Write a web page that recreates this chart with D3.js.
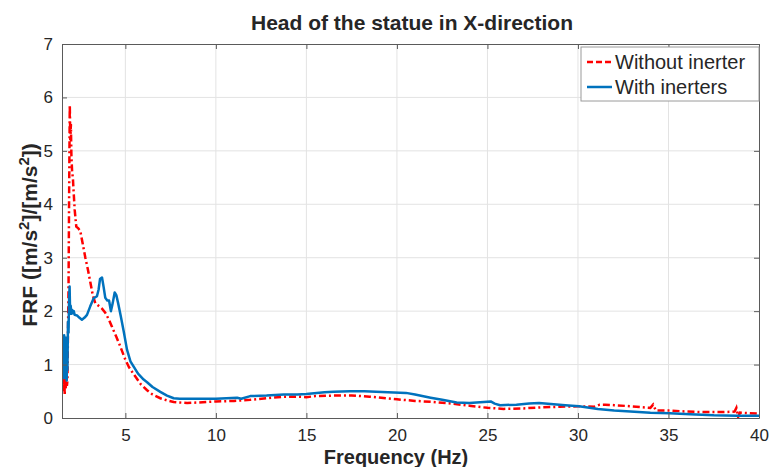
<!DOCTYPE html>
<head>
<meta charset="utf-8">
<style>
    body { margin: 0; background: #fff; }
    text { font-family: "Liberation Sans", Arial, sans-serif; fill: #262626; }
</style>
<script src="https://d3js.org/d3.v7.min.js"></script>
</head>
<body>
<script>
// values
var freqRed = [1.50, 1.53, 1.56, 1.59, 1.62, 1.65, 1.68, 1.71, 1.74, 1.77, 1.80, 1.83, 1.86, 1.89, 1.93, 1.96, 1.99, 2.02, 2.06, 2.10, 2.14, 2.20, 2.29, 2.40, 2.51, 2.65, 2.79, 2.93, 3.06, 3.20, 3.34, 3.52, 3.70, 3.89, 4.08, 4.26, 4.50, 4.72, 5.00, 5.20, 5.46, 5.83, 6.20, 6.50, 6.93, 7.30, 7.67, 8.00, 8.41, 9.00, 10.0, 11.0, 11.9, 12.8, 13.75, 14.5, 15.0, 15.5, 16.5, 17.5, 18.5, 20.0, 21.0, 22.0, 23.0, 24.0, 25.0, 25.9, 27.0, 28.0, 29.0, 30.0, 30.9, 31.2, 31.5, 32.0, 32.9, 34.0, 34.15, 34.3, 35.1, 36.0, 37.0, 38.0, 38.65, 38.75, 38.85, 38.95, 40.0];
var frfRed = [0.85, 0.60, 0.90, 0.50, 0.75, 0.45, 0.80, 0.55, 0.95, 0.60, 0.70, 1.60, 2.40, 4.00, 5.86, 5.20, 5.50, 4.90, 4.60, 4.50, 4.25, 3.90, 3.58, 3.55, 3.50, 3.25, 3.00, 2.78, 2.55, 2.30, 2.15, 2.10, 2.05, 1.97, 1.85, 1.71, 1.52, 1.34, 1.09, 0.95, 0.82, 0.64, 0.52, 0.44, 0.37, 0.33, 0.30, 0.29, 0.28, 0.29, 0.31, 0.32, 0.34, 0.37, 0.40, 0.40, 0.39, 0.41, 0.42, 0.42, 0.40, 0.35, 0.32, 0.30, 0.27, 0.23, 0.19, 0.17, 0.18, 0.20, 0.21, 0.22, 0.21, 0.25, 0.25, 0.24, 0.22, 0.19, 0.25, 0.14, 0.14, 0.12, 0.11, 0.11, 0.12, 0.19, 0.02, 0.10, 0.08];

var freqBlue = [1.50, 1.52, 1.54, 1.56, 1.58, 1.60, 1.62, 1.64, 1.66, 1.68, 1.70, 1.72, 1.74, 1.76, 1.78, 1.80, 1.83, 1.86, 1.89, 1.92, 1.95, 1.98, 2.02, 2.06, 2.10, 2.15, 2.20, 2.33, 2.45, 2.60, 2.75, 2.88, 3.06, 3.25, 3.43, 3.52, 3.60, 3.71, 3.80, 3.89, 4.00, 4.10, 4.20, 4.30, 4.41, 4.50, 4.60, 4.75, 4.91, 5.09, 5.28, 5.46, 5.70, 6.01, 6.20, 6.50, 6.93, 7.30, 7.67, 8.00, 9.00, 10.0, 11.17, 11.4, 11.9, 12.8, 13.75, 14.5, 15.0, 16.0, 16.5, 17.4, 18.2, 19.5, 20.5, 21.0, 21.86, 22.5, 23.3, 24.0, 24.8, 25.18, 25.4, 25.7, 26.6, 27.3, 27.85, 28.5, 29.3, 30.06, 31.1, 32.0, 32.9, 34.0, 35.07, 36.2, 37.5, 38.8, 40.0];
var frfBlue = [1.30, 0.90, 1.50, 0.80, 1.45, 0.75, 1.55, 0.90, 1.40, 0.75, 1.50, 0.80, 1.35, 0.70, 1.40, 0.90, 1.80, 1.60, 2.20, 2.46, 1.95, 2.10, 1.95, 2.02, 1.96, 2.00, 1.93, 1.92, 1.88, 1.84, 1.88, 1.93, 2.09, 2.24, 2.28, 2.40, 2.60, 2.63, 2.45, 2.25, 2.20, 2.20, 2.00, 2.15, 2.35, 2.30, 2.15, 1.90, 1.62, 1.28, 1.06, 0.96, 0.83, 0.72, 0.67, 0.58, 0.49, 0.42, 0.37, 0.36, 0.36, 0.36, 0.38, 0.36, 0.41, 0.42, 0.44, 0.44, 0.45, 0.48, 0.49, 0.50, 0.50, 0.48, 0.47, 0.44, 0.38, 0.34, 0.29, 0.28, 0.30, 0.31, 0.27, 0.24, 0.25, 0.27, 0.28, 0.26, 0.24, 0.22, 0.17, 0.14, 0.12, 0.10, 0.09, 0.07, 0.05, 0.04, 0.04];

var xTicks = [5, 10, 15, 20, 25, 30, 35, 40];
var yTicks = [0, 1, 2, 3, 4, 5, 6, 7];
var seriesNames = ["Without inerter", "With inerters"];

var W = 771, H = 467;
var margin = {top: 44, right: 12, bottom: 49, left: 62};
var width = W - margin.left - margin.right,
    height = H - margin.top - margin.bottom;

var svg = d3.select("body").append("svg")
    .attr("width", W)
    .attr("height", H);

var x = d3.scaleLinear().domain([1.5, 40]).range([0, width]);
var y = d3.scaleLinear().domain([0, 7]).range([height, 0]);

var g = svg.append("g")
    .attr("transform", "translate(" + margin.left + "," + margin.top + ")");

// grid
g.append("g").selectAll("line")
    .data(xTicks.filter(function(d) { return d < 40; }))
    .enter().append("line")
    .attr("x1", function(d) { return x(d); })
    .attr("x2", function(d) { return x(d); })
    .attr("y1", 0).attr("y2", height)
    .attr("stroke", "#e3e3e3");
g.append("g").selectAll("line")
    .data(yTicks.filter(function(d) { return d > 0 && d < 7; }))
    .enter().append("line")
    .attr("y1", function(d) { return y(d); })
    .attr("y2", function(d) { return y(d); })
    .attr("x1", 0).attr("x2", width)
    .attr("stroke", "#e3e3e3");

svg.append("clipPath").attr("id", "clip")
  .append("rect").attr("width", width).attr("height", height);

var line = d3.line()
    .x(function(d) { return x(d[0]); })
    .y(function(d) { return y(d[1]); });

var plot = g.append("g").attr("clip-path", "url(#clip)");

plot.append("path")
    .datum(d3.zip(freqRed, frfRed))
    .attr("fill", "none")
    .attr("stroke", "#ff0000")
    .attr("stroke-width", 2.5)
    .attr("stroke-dasharray", "7,3,2,3")
    .attr("d", line);

plot.append("path")
    .datum(d3.zip(freqBlue, frfBlue))
    .attr("fill", "none")
    .attr("stroke", "#0072bd")
    .attr("stroke-width", 2.5)
    .attr("stroke-linejoin", "round")
    .attr("d", line);

// axes (ticks inward, box with ticks)
function styleAxis(sel) {
    sel.selectAll("path").attr("stroke", "#5a5a5a");
    sel.selectAll("line").attr("stroke", "#5a5a5a");
    sel.selectAll("text").style("font-size", "17px").attr("fill", "#262626");
}
var xAxis = g.append("g")
    .attr("transform", "translate(0," + height + ")")
    .call(d3.axisBottom(x).tickValues(xTicks).tickFormat(d3.format("d"))
        .tickSize(-5).tickPadding(11).tickSizeOuter(0));
styleAxis(xAxis);

var yAxis = g.append("g")
    .call(d3.axisLeft(y).tickValues(yTicks).tickFormat(d3.format("d"))
        .tickSize(-5).tickPadding(9).tickSizeOuter(0));
styleAxis(yAxis);

var topAxis = g.append("g")
    .call(d3.axisTop(x).tickValues(xTicks).tickSize(-5).tickFormat("").tickSizeOuter(0));
styleAxis(topAxis);
var rightAxis = g.append("g")
    .attr("transform", "translate(" + width + ",0)")
    .call(d3.axisRight(y).tickValues(yTicks).tickSize(-5).tickFormat("").tickSizeOuter(0));
styleAxis(rightAxis);

// title and labels
svg.append("text")
    .attr("x", 412)
    .attr("y", 30)
    .attr("text-anchor", "middle")
    .style("font-size", "21px")
    .style("font-weight", "bold")
    .attr("fill", "#000")
    .text("Head of the statue in X-direction");

svg.append("text")
    .attr("x", 396)
    .attr("y", 464)
    .attr("text-anchor", "middle")
    .style("font-size", "20px")
    .style("font-weight", "bold")
    .text("Frequency (Hz)");

var ylab = svg.append("text")
    .attr("transform", "translate(37,235) rotate(-90)")
    .attr("text-anchor", "middle")
    .style("font-size", "21px")
    .style("font-weight", "bold");
ylab.append("tspan").text("FRF ([m/s");
ylab.append("tspan").attr("dy", -8).style("font-size", "15px").text("2");
ylab.append("tspan").attr("dy", 8).text("]/[m/s");
ylab.append("tspan").attr("dy", -8).style("font-size", "15px").text("2");
ylab.append("tspan").attr("dy", 8).text("])");

// legend
var legend = svg.append("g").attr("transform", "translate(581,47)");
legend.append("rect")
    .attr("width", 178).attr("height", 54)
    .attr("fill", "#fff")
    .attr("stroke", "#9a9a9a");
var legColors = ["#ff0000", "#0072bd"];
seriesNames.forEach(function(name, i) {
    var yy = 15 + i * 25;
    legend.append("line")
        .attr("x1", 6).attr("x2", 31)
        .attr("y1", yy).attr("y2", yy)
        .attr("stroke", legColors[i])
        .attr("stroke-width", 2.5)
        .attr("stroke-dasharray", i == 0 ? "6,3" : null);
    legend.append("text")
        .attr("x", 34).attr("y", yy + 7)
        .style("font-size", "20px")
        .attr("fill", "#000")
        .text(name);
});
</script>
</body>
